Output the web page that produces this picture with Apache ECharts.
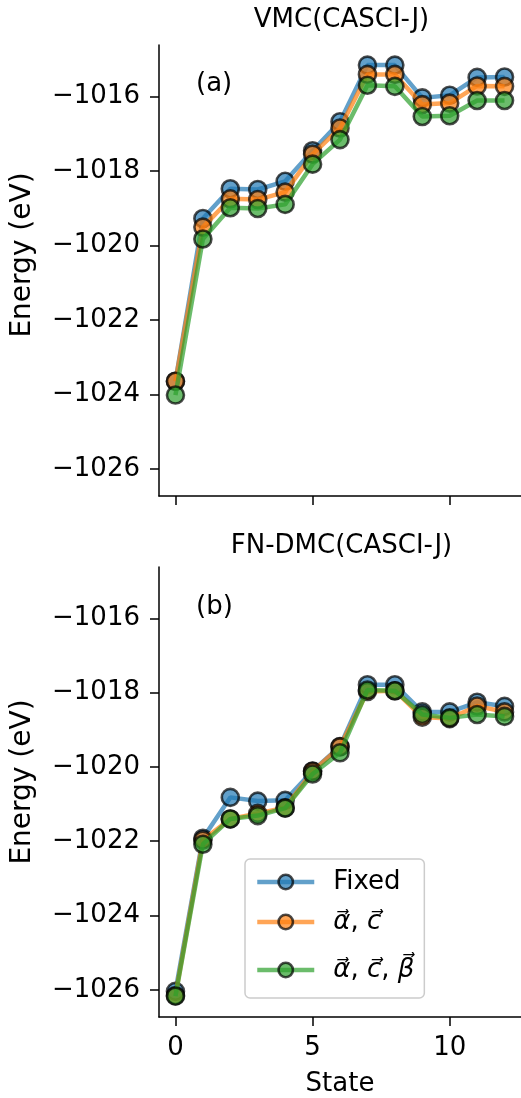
<!DOCTYPE html>
<html>
<head>
<meta charset="utf-8">
<script src="https://cdn.jsdelivr.net/npm/echarts@6.0.0/dist/echarts.min.js"></script>
<style>
html, body { margin: 0; padding: 0; background: #fff; }
#chart { width: 521px; height: 1098px; }
</style>
</head>
<body>
<div id="chart"></div>
<script>
// data
const states = [0, 1, 2, 3, 4, 5, 6, 7, 8, 9, 10, 11, 12];
const vmcFixed = [-1023.65, -1019.28, -1018.48, -1018.50, -1018.28, -1017.46, -1016.68, -1015.16, -1015.16, -1016.04, -1015.97, -1015.49, -1015.48];
const vmcAC = [-1023.65, -1019.51, -1018.75, -1018.77, -1018.57, -1017.55, -1016.85, -1015.41, -1015.41, -1016.22, -1016.18, -1015.72, -1015.73];
const vmcACB = [-1024.02, -1019.83, -1018.99, -1019.01, -1018.90, -1017.82, -1017.16, -1015.70, -1015.73, -1016.54, -1016.52, -1016.11, -1016.11];
const dmcFixed = [-1026.04, -1021.92, -1020.82, -1020.92, -1020.90, -1020.11, -1019.45, -1017.79, -1017.79, -1018.52, -1018.52, -1018.26, -1018.37];
const dmcAC = [-1026.15, -1021.97, -1021.40, -1021.25, -1021.10, -1020.12, -1019.46, -1017.97, -1017.95, -1018.66, -1018.70, -1018.36, -1018.52];
const dmcACB = [-1026.17, -1022.08, -1021.40, -1021.31, -1021.11, -1020.19, -1019.62, -1017.93, -1017.95, -1018.59, -1018.68, -1018.59, -1018.64];
const xTicks = [0, 5, 10];
const yTicks = [-1026, -1024, -1022, -1020, -1018, -1016];
const seriesNames = ['Fixed', 'α\u20D7, c\u20D7', 'α\u20D7, c\u20D7, β\u20D7'];
const panelTitles = ['VMC(CASCI-J)', 'FN-DMC(CASCI-J)'];
const panelTags = ['(a)', '(b)'];

const font = 'DejaVu Sans';
const colors = ['rgba(31,119,180,0.7)', 'rgba(255,127,14,0.7)', 'rgba(44,160,44,0.7)'];
const grids = [
    { left: 159, top: 45, width: 364, height: 451 },
    { left: 159, top: 567, width: 364, height: 451 }
];
const panels = [[vmcFixed, vmcAC, vmcACB], [dmcFixed, dmcAC, dmcACB]];

let myChart = echarts.init(document.getElementById('chart'), null, { renderer: 'canvas' });

let xAxes = grids.map((g, i) => ({
    gridIndex: i,
    type: 'value',
    min: -0.6,
    max: 12.6,
    name: i === 1 ? 'State' : '',
    nameLocation: 'middle',
    nameGap: 54,
    nameTextStyle: { fontFamily: font, fontSize: 26, color: '#000' },
    axisLine: { show: true, onZero: false, lineStyle: { color: '#000', width: 1.5 } },
    axisTick: { show: true, length: 9, customValues: xTicks, lineStyle: { color: '#000', width: 1.5 } },
    axisLabel: { show: i === 1, customValues: xTicks, fontFamily: font, fontSize: 26, color: '#000', margin: 18 },
    splitLine: { show: false }
}));

let yAxes = grids.map((g, i) => ({
    gridIndex: i,
    type: 'value',
    min: -1026.73,
    max: -1014.62,
    axisLine: { show: true, onZero: false, lineStyle: { color: '#000', width: 1.5 } },
    axisTick: { show: true, length: 9, customValues: yTicks, lineStyle: { color: '#000', width: 1.5 } },
    axisLabel: {
        customValues: yTicks,
        fontFamily: font, fontSize: 26, color: '#000', margin: 19,
        formatter: v => String(v).replace('-', '\u2212')
    },
    splitLine: { show: false }
}));

let series = [];
panels.forEach((sets, p) => {
    sets.forEach((vals, k) => {
        series.push({
            name: seriesNames[k],
            type: 'line',
            xAxisIndex: p,
            yAxisIndex: p,
            data: states.map((s, j) => [s, vals[j]]),
            symbol: 'circle',
            symbolSize: 17,
            showAllSymbol: true,
            lineStyle: { color: colors[k], width: 4.5 },
            itemStyle: { color: colors[k], borderColor: 'rgba(0,0,0,0.7)', borderWidth: 2.6 },
            emphasis: { disabled: true },
            z: 2 + k
        });
    });
});

let titles = [];
panelTitles.forEach((t, i) => {
    titles.push({
        text: t, left: 341.5, top: i === 0 ? 7 : 533, textAlign: 'center', padding: 0,
        textStyle: { fontFamily: font, fontSize: 26, fontWeight: 'normal', color: '#000' }
    });
    titles.push({
        text: panelTags[i], left: 196, top: i === 0 ? 71 : 594, padding: 0,
        textStyle: { fontFamily: font, fontSize: 26, fontWeight: 'normal', color: '#000' }
    });
});

let legendLabels = {};
legendLabels[seriesNames[0]] = '{sp|}Fixed';
legendLabels[seriesNames[1]] = '{sp|}{m|α\u20D7}, {m|c\u20D7}';
legendLabels[seriesNames[2]] = '{sp|}{m|α\u20D7}, {m|c\u20D7}, {m|β\u20D7}{h|}';

let option = {
    animation: false,
    backgroundColor: '#fff',
    title: titles,
    grid: grids,
    xAxis: xAxes,
    yAxis: yAxes,
    legend: {
        orient: 'vertical',
        left: 245,
        top: 859,
        padding: [9, 10, 6, 10],
        itemGap: 12,
        itemWidth: 57,
        itemHeight: 18,
        backgroundColor: 'rgba(255,255,255,0.8)',
        borderColor: '#cccccc',
        borderWidth: 1.5,
        borderRadius: 5,
        selectedMode: false,
        data: seriesNames,
        lineStyle: { width: 4.5 },
        itemStyle: { borderWidth: 2.6 },
        formatter: name => legendLabels[name],
        textStyle: {
            fontFamily: font, fontSize: 26, color: '#000', lineHeight: 28,
            rich: {
                sp: { width: 14, lineHeight: 28 },
                m: { fontFamily: font, fontSize: 26, fontStyle: 'italic', color: '#000', lineHeight: 28 },
                h: { width: 0, lineHeight: 44 }
            }
        }
    },
    graphic: [
        { type: 'text', x: 23, y: 255, rotation: Math.PI / 2, style: { text: 'Energy (eV)', font: '28px "DejaVu Sans"', fill: '#000', align: 'center', verticalAlign: 'middle' } },
        { type: 'text', x: 23, y: 782, rotation: Math.PI / 2, style: { text: 'Energy (eV)', font: '28px "DejaVu Sans"', fill: '#000', align: 'center', verticalAlign: 'middle' } }
    ],
    series: series
};
myChart.setOption(option);
</script>
</body>
</html>
